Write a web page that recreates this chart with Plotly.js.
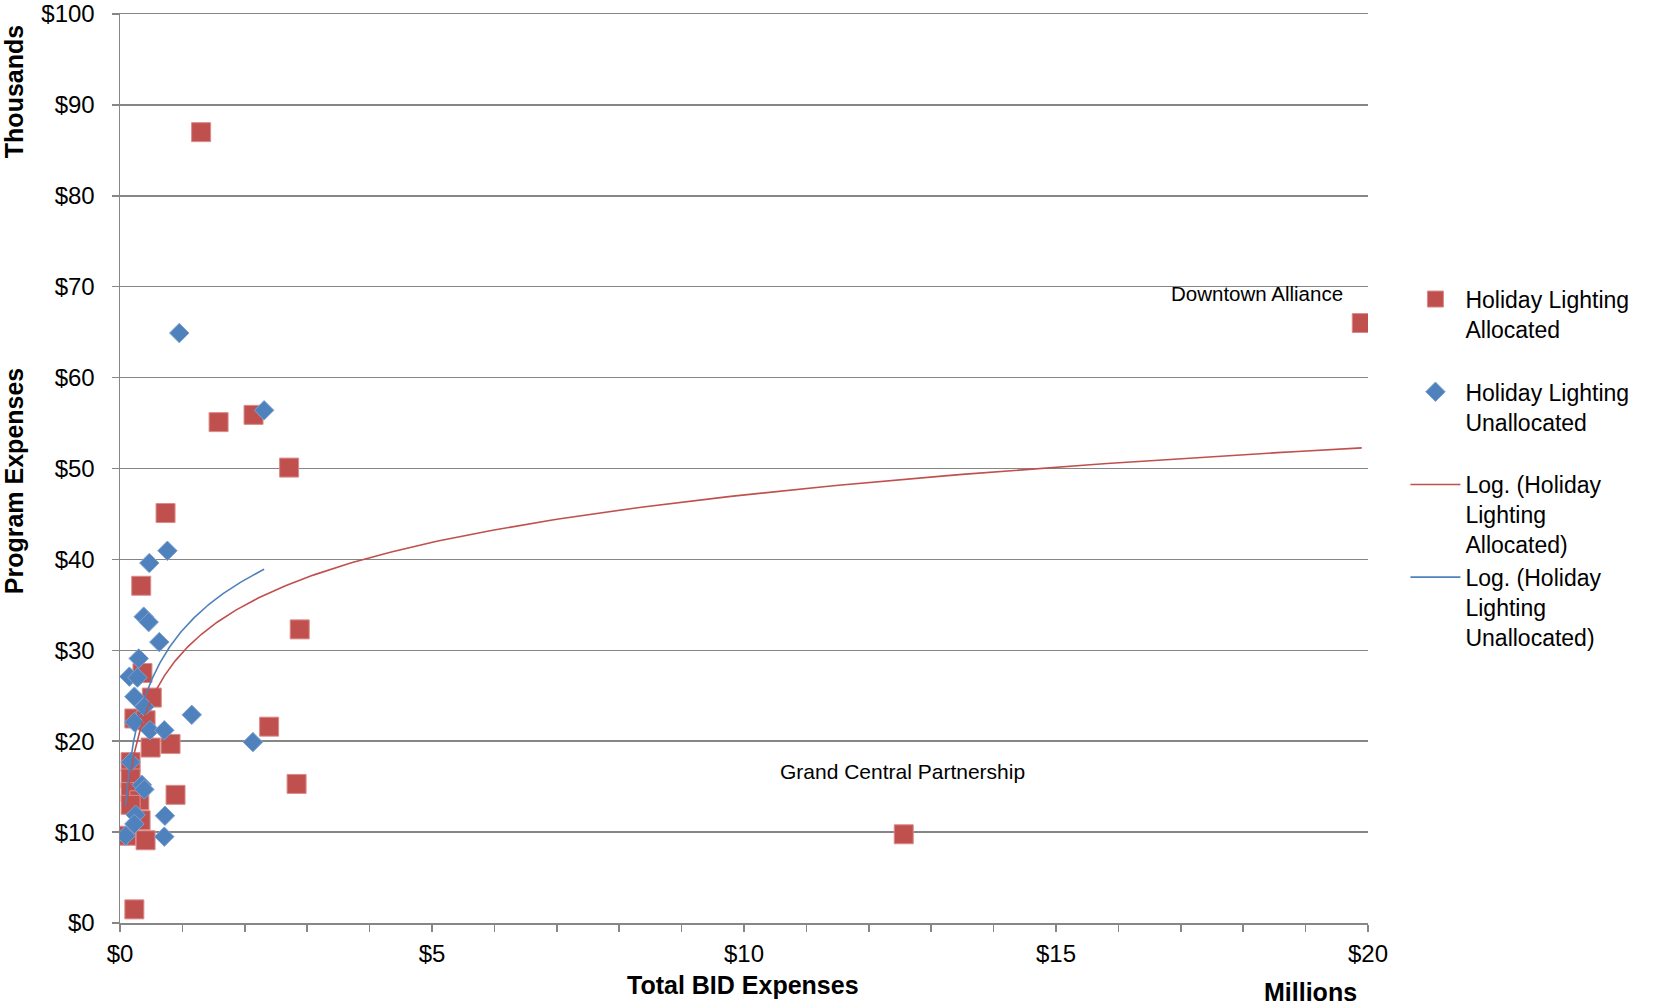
<!DOCTYPE html>
<html>
<head>
<meta charset="utf-8">
<script src="https://cdn.plot.ly/plotly-3.0.1.min.js"></script>
<style>html,body{margin:0;padding:0;background:#fff;}#chart{width:1658px;height:1007px;}</style>
</head>
<body>
<div id="chart"></div>
<script>
// Total BID expenses (millions) and holiday lighting program expenses (thousands)
var allocatedX = [1.30, 1.58, 2.14, 2.71, 0.73, 0.34, 2.88, 0.36, 0.51, 0.23, 0.41, 2.39, 0.49, 0.81, 0.17, 0.17, 0.17, 0.31, 0.17, 0.89, 2.83, 0.33, 0.10, 0.41, 0.23, 12.56, 19.90];
var allocatedY = [87.0, 55.1, 55.9, 50.1, 45.1, 37.1, 32.3, 27.5, 24.8, 22.5, 22.3, 21.6, 19.3, 19.7, 17.7, 15.9, 14.4, 13.5, 13.0, 14.1, 15.3, 11.3, 9.6, 9.1, 1.5, 9.76, 66.0];

var unallocatedX = [0.95, 2.31, 0.76, 0.47, 0.38, 0.46, 0.63, 0.30, 0.15, 0.28, 0.23, 0.39, 1.15, 0.23, 0.48, 0.71, 2.13, 0.17, 0.35, 0.39, 0.72, 0.25, 0.23, 0.09, 0.71];
var unallocatedY = [64.9, 56.4, 40.95, 39.6, 33.7, 33.1, 30.9, 29.1, 27.1, 27.0, 24.9, 23.8, 22.9, 22.1, 21.2, 21.2, 19.9, 17.7, 15.2, 14.7, 11.8, 11.9, 10.9, 9.6, 9.5];

var xTickVals = [0, 5, 10, 15, 20];
var xTickText = ['$0', '$5', '$10', '$15', '$20'];
var yTickVals = [0, 10, 20, 30, 40, 50, 60, 70, 80, 90, 100];
var yTickText = ['$0', '$10', '$20', '$30', '$40', '$50', '$60', '$70', '$80', '$90', '$100'];

var seriesNames = ['Holiday Lighting<br>Allocated<br> ', 'Holiday Lighting<br>Unallocated<br> ',
  'Log. (Holiday<br>Lighting<br>Allocated)', 'Log. (Holiday<br>Lighting<br>Unallocated)'];

var labelNames = ['Downtown Alliance', 'Grand Central Partnership'];
var labelX = [18.22, 12.54];
var labelY = [69.3, 16.65];

var RED = '#C0504D', BLUE = '#4F81BD';

// logarithmic least-squares trendline (y = a ln x + b), like a spreadsheet trendline
function logFit(xs, ys) {
  var n = xs.length, sl = 0, sy = 0, sll = 0, sly = 0;
  for (var i = 0; i < n; i++) {
    var l = Math.log(xs[i]);
    sl += l; sy += ys[i]; sll += l * l; sly += l * ys[i];
  }
  var a = (n * sly - sl * sy) / (n * sll - sl * sl);
  var b = (sy - a * sl) / n;
  var xmin = Math.min.apply(null, xs), xmax = Math.max.apply(null, xs);
  var tx = [], ty = [];
  for (var k = 0; k <= 300; k++) {
    var x = xmin * Math.pow(xmax / xmin, k / 300);
    tx.push(x); ty.push(a * Math.log(x) + b);
  }
  return {x: tx, y: ty};
}
var fitA = logFit(allocatedX, allocatedY);
var fitU = logFit(unallocatedX, unallocatedY);

var FONT = 'Liberation Sans, Arial, sans-serif';

var traces = [
  {type: 'scatter', mode: 'markers', name: seriesNames[0], x: allocatedX, y: allocatedY,
   marker: {symbol: 'square', size: 19, color: RED, line: {color: '#D98C8A', width: 1}}},
  {type: 'scatter', mode: 'markers', name: seriesNames[1], x: unallocatedX, y: unallocatedY,
   marker: {symbol: 'diamond', size: 15, color: BLUE, line: {color: '#7FA3D1', width: 1}}},
  {type: 'scatter', mode: 'lines', name: seriesNames[2], x: fitA.x, y: fitA.y,
   line: {color: RED, width: 1.6}},
  {type: 'scatter', mode: 'lines', name: seriesNames[3], x: fitU.x, y: fitU.y,
   line: {color: BLUE, width: 1.6}}
];

var annotations = [];
var labelSizes = [20.5, 21];
for (var i = 0; i < labelNames.length; i++) {
  annotations.push({x: labelX[i], y: labelY[i], xref: 'x', yref: 'y', text: labelNames[i],
    showarrow: false, font: {family: FONT, size: labelSizes[i], color: '#000'}});
}
annotations.push({xref: 'paper', yref: 'paper', x: 0, y: 0.486, xshift: -106, xanchor: 'center', yanchor: 'middle',
  text: '<b>Program Expenses</b>', textangle: -90, showarrow: false, font: {family: FONT, size: 25, color: '#000'}});
annotations.push({xref: 'paper', yref: 'paper', x: 0, y: 0.914, xshift: -106, xanchor: 'center', yanchor: 'middle',
  text: '<b>Thousands</b>', textangle: -90, showarrow: false, font: {family: FONT, size: 25, color: '#000'}});
annotations.push({xref: 'paper', yref: 'paper', x: 0.499, y: 0, yshift: -62, xanchor: 'center', yanchor: 'middle',
  text: '<b>Total BID Expenses</b>', showarrow: false, font: {family: FONT, size: 25, color: '#000'}});
annotations.push({xref: 'paper', yref: 'paper', x: 0.954, y: 0, yshift: -69, xanchor: 'center', yanchor: 'middle',
  text: '<b>Millions</b>', showarrow: false, font: {family: FONT, size: 25, color: '#000'}});

var layout = {
  width: 1658, height: 1007,
  margin: {l: 120, r: 290, t: 14, b: 84},
  paper_bgcolor: '#fff', plot_bgcolor: '#fff',
  font: {family: FONT, size: 24, color: '#000'},
  showlegend: true,
  legend: {x: 1.03, xanchor: 'left', y: 0.71, yanchor: 'top', valign: 'top',
    font: {family: FONT, size: 23, color: '#000'},
    itemwidth: 50, tracegroupgap: 0, bgcolor: 'rgba(0,0,0,0)'},
  xaxis: {range: [0, 20], tickvals: xTickVals, ticktext: xTickText, showgrid: false, zeroline: false,
    showline: true, mirror: true, linecolor: '#868686', linewidth: 1.5, ticks: 'outside', ticklen: 7, tickcolor: '#868686',
    tickwidth: 1.5, ticklabelstandoff: 2,
    minor: {dtick: 1, ticks: 'outside', ticklen: 7, tickcolor: '#868686', tickwidth: 1.5, showgrid: false},
    tickfont: {family: FONT, size: 24, color: '#000'}},
  yaxis: {range: [0, 100], tickvals: yTickVals, ticktext: yTickText, showgrid: true, gridcolor: '#868686',
    gridwidth: 1.5, zeroline: false, showline: true, linecolor: '#868686', linewidth: 1.5, ticks: 'outside',
    ticklen: 7, tickcolor: '#868686', tickwidth: 1.5, ticklabelstandoff: 12,
    tickfont: {family: FONT, size: 24, color: '#000'}},
  annotations: annotations
};

Plotly.newPlot('chart', traces, layout, {displayModeBar: false, staticPlot: true});
</script>
</body>
</html>
